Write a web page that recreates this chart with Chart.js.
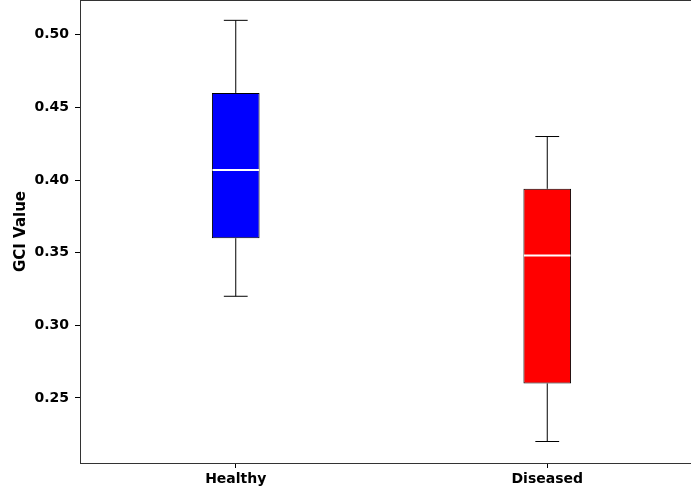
<!DOCTYPE html>
<html>
<head>
<meta charset="utf-8">
<script src="https://cdn.jsdelivr.net/npm/chart.js@4.4.0/dist/chart.umd.min.js"></script>
<style>
  html, body { margin: 0; padding: 0; background: #fff; overflow: hidden; }
  canvas { display: block; }
</style>
</head>
<body>
<canvas id="boxChart" width="703" height="490"></canvas>
<script>
// box plot stats
const groups = ['Healthy', 'Diseased'];
const mins = [0.32, 0.22];
const q1s = [0.36, 0.26];
const medians = [0.407, 0.348];
const q3s = [0.46, 0.394];
const maxs = [0.51, 0.43];
const boxColors = ['#0000ff', '#ff0000'];
const yTicks = [0.25, 0.30, 0.35, 0.40, 0.45, 0.50];

const tickFont = { family: 'DejaVu Sans', size: 14, weight: 'bold' };

// whiskers, caps, medians and the top frame line
const boxExtras = {
    id: 'boxExtras',
    afterDatasetsDraw(chart) {
        const ctx = chart.ctx;
        const x = chart.scales.x;
        const y = chart.scales.y;
        const meta = chart.getDatasetMeta(0);
        ctx.save();
        for (let i = 0; i < groups.length; i++) {
            const bar = meta.data[i];
            const cx = x.getPixelForValue(i);
            const half = bar.width / 2;
            const capHalf = half / 2;

            ctx.strokeStyle = '#000';
            ctx.lineWidth = 1;
            ctx.beginPath();
            ctx.moveTo(cx, y.getPixelForValue(q3s[i]));
            ctx.lineTo(cx, y.getPixelForValue(maxs[i]));
            ctx.moveTo(cx, y.getPixelForValue(q1s[i]));
            ctx.lineTo(cx, y.getPixelForValue(mins[i]));
            ctx.moveTo(cx - capHalf, y.getPixelForValue(maxs[i]));
            ctx.lineTo(cx + capHalf, y.getPixelForValue(maxs[i]));
            ctx.moveTo(cx - capHalf, y.getPixelForValue(mins[i]));
            ctx.lineTo(cx + capHalf, y.getPixelForValue(mins[i]));
            ctx.stroke();

            ctx.strokeStyle = '#fff';
            ctx.lineWidth = 2;
            ctx.beginPath();
            ctx.moveTo(cx - half + 0.5, y.getPixelForValue(medians[i]));
            ctx.lineTo(cx + half - 0.5, y.getPixelForValue(medians[i]));
            ctx.stroke();
        }
        const a = chart.chartArea;
        ctx.fillStyle = '#333';
        ctx.fillRect(a.left, a.top, a.right - a.left, 1);
        ctx.restore();
    }
};

const ctx = document.getElementById('boxChart').getContext('2d');
const myChart = new Chart(ctx, {
    type: 'bar',
    data: {
        labels: groups,
        datasets: [{
            data: groups.map((g, i) => [q1s[i], q3s[i]]),
            backgroundColor: boxColors,
            borderColor: '#000',
            borderWidth: 1,
            borderSkipped: false,
            barPercentage: 0.153,
            categoryPercentage: 1
        }]
    },
    options: {
        responsive: false,
        animation: false,
        devicePixelRatio: 1,
        layout: { padding: 0 },
        plugins: {
            legend: { display: false },
            tooltip: { enabled: false }
        },
        scales: {
            x: {
                offset: true,
                grid: { display: true, drawOnChartArea: false, drawTicks: true, tickLength: 5, color: '#000', offset: false },
                border: { display: true, color: '#333', width: 1 },
                ticks: { color: '#000', font: tickFont, padding: 3 },
                afterFit: s => { s.height = 27; s.paddingLeft = 0; s.paddingRight = 0; }
            },
            y: {
                min: 0.2052,
                max: 0.524,
                afterBuildTicks: s => { s.ticks = yTicks.map(v => ({ value: v })); },
                grid: { display: true, drawOnChartArea: false, drawTicks: true, tickLength: 5, color: '#000' },
                border: { display: true, color: '#333', width: 1 },
                ticks: { color: '#000', font: tickFont, padding: 6, callback: v => v.toFixed(2) },
                title: { display: true, text: 'GCI Value', color: '#000', font: { family: 'DejaVu Sans', size: 15, weight: 'bold' }, padding: { top: 12, bottom: 0 } },
                afterFit: s => { s.width = 80; s.paddingTop = 0; s.paddingBottom = 0; }
            }
        }
    },
    plugins: [boxExtras]
});
</script>
</body>
</html>
